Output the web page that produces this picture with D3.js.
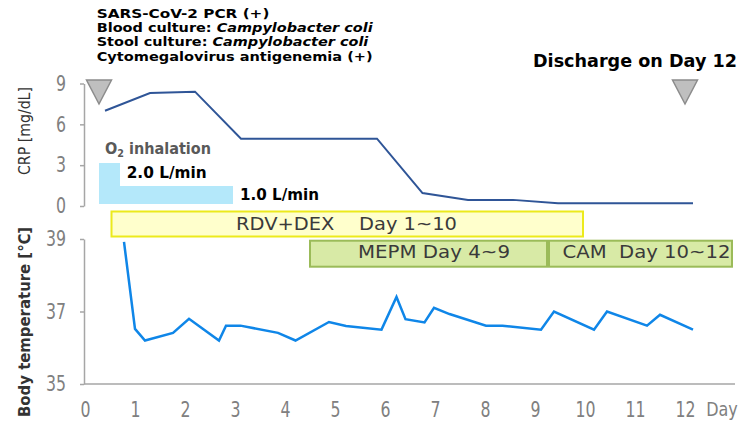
<!DOCTYPE html>
<html><head><meta charset="utf-8">
<script src="https://cdn.jsdelivr.net/npm/d3@7"></script>
<style>
html,body{margin:0;padding:0;background:#fff;}
svg{display:block;}
text{font-family:"DejaVu Sans",Verdana,sans-serif;}
</style></head>
<body>
<svg id="c" width="750" height="422"></svg>
<script>
// ---- data ----
const dayTicks = [0,1,2,3,4,5,6,7,8,9,10,11,12];
const crpTicks = [0,3,6,9];
const tempTicks = [35,37,39];

const crpDays = [0.4, 1.3, 2.2, 3.12, 5.84, 6.75, 7.66, 8.56, 9.46, 12.16];
const crpValues = [7.0, 8.3, 8.4, 4.95, 4.95, 0.95, 0.45, 0.45, 0.2, 0.2];

const tempDays = [0.78, 1.0, 1.2, 1.76, 2.08, 2.68, 2.82, 3.11, 3.86, 4.21, 4.88, 5.22, 5.93, 6.23, 6.41, 6.79, 6.98, 7.29, 8.02, 8.35, 9.12, 9.38, 10.18, 10.44, 11.24, 11.5, 12.16];
const tempValues = [38.92, 36.52, 36.2, 36.41, 36.8, 36.2, 36.61, 36.61, 36.41, 36.2, 36.71, 36.6, 36.5, 37.4, 36.79, 36.7, 37.1, 36.93, 36.61, 36.61, 36.5, 37.0, 36.5, 37.0, 36.61, 36.91, 36.5];

const o2Labels = ["1.0 L/min", "2.0 L/min"];
const o2Flow = [1.0, 2.0];
const o2Start = [0.28, 0.28];
const o2End = [2.96, 0.7];

const drugNames = ["RDV+DEX    Day 1~10", "MEPM Day 4~9", "CAM  Day 10~12"];
const drugStart = [0.53, 4.5, 9.28];
const drugEnd = [9.96, 9.24, 12.94];
const drugRow = [0, 1, 1];

const markerDays = [0.28, 12.0];
const findings = ["SARS-CoV-2 PCR (+)", "Blood culture: |Campylobacter coli", "Stool culture: |Campylobacter coli", "Cytomegalovirus antigenemia (+)"];
const dischargeLabel = "Discharge on Day 12";

// ---- drawing ----
const svg = d3.select("#c");
const x = d3.scaleLinear().domain([0,13]).range([85,735]);
const yCrp = d3.scaleLinear().domain([0,9]).range([206,83.5]);
const yTemp = d3.scaleLinear().domain([35,39]).range([384,239]);
const yO2 = d3.scaleLinear().domain([0,2]).range([209,163]);
const axisColor = "#a6a6a6", tickColor = "#808080";

function fit(sel, w){ sel.each(function(){ const n=this; n.setAttribute("textLength", w); n.setAttribute("lengthAdjust","spacingAndGlyphs"); }); }
function condense(sel, f){ sel.each(function(){ const L=this.getComputedTextLength(); this.setAttribute("textLength", L*f); this.setAttribute("lengthAdjust","spacingAndGlyphs"); }); }

// O2 bars
const o2g = svg.append("g");
o2Flow.forEach((f,i)=>{
  o2g.append("rect").attr("x", x(o2Start[i])).attr("width", x(o2End[i])-x(o2Start[i]))
    .attr("y", yO2(f)).attr("height", 204 - yO2(f)).attr("fill", "#b4e8fa");
});
o2g.append("text").attr("x",105).attr("y",154.3).attr("fill","#595959").attr("font-weight","bold").attr("font-size",15)
  .call(t=>{ t.append("tspan").text("O"); t.append("tspan").attr("font-size",10).attr("dy",3).text("2"); t.append("tspan").attr("dy",-3).text(" inhalation"); })
  .call(fit,106);
o2g.append("text").attr("x",126.7).attr("y",178.3).attr("font-weight","bold").attr("font-size",15.5).attr("fill","#000").text(o2Labels[1]).call(fit,80);
o2g.append("text").attr("x",240).attr("y",200).attr("font-weight","bold").attr("font-size",15.5).attr("fill","#000").text(o2Labels[0]).call(fit,79);

// drug boxes
const rowTop = [211.5, 240.7], rowH = [25, 26];
drugNames.forEach((n,i)=>{
  const r = drugRow[i];
  const isY = r===0;
  svg.append("rect").attr("x", x(drugStart[i])).attr("width", x(drugEnd[i])-x(drugStart[i]))
    .attr("y", rowTop[r]).attr("height", rowH[r])
    .attr("fill", isY ? "#ffffcc" : "#d8eaa6").attr("stroke", isY ? "#ecea1c" : "#9bbb59").attr("stroke-width", 2);
});
const drugTextX = [346.5, 434, 646.5], drugTextW = [221, 152, 168];
drugNames.forEach((n,i)=>{
  svg.append("text").attr("x", drugTextX[i]).attr("y", drugRow[i]===0 ? 229.8 : 258).attr("text-anchor","middle")
    .attr("font-size",18).attr("fill","#3a3a3a").style("white-space","pre").text(n).call(fit, drugTextW[i]);
});

// axes
const gx = svg.append("g").attr("transform","translate(0,384)")
  .call(d3.axisBottom(x).tickValues(dayTicks).tickSize(0).tickSizeOuter(0).tickPadding(18));
gx.select(".domain").attr("stroke",axisColor).attr("stroke-width",1.5).attr("d","M84,0H735");
gx.selectAll("text").attr("font-family","'Liberation Sans',Arial,sans-serif").attr("font-size",21).attr("fill",tickColor).call(condense,0.75);

const fmt = d3.format("d");
const gc = svg.append("g").attr("transform","translate(84,0)")
  .call(d3.axisLeft(yCrp).tickValues(crpTicks).tickFormat(fmt).tickSize(4).tickSizeOuter(0).tickPadding(14));
const gt = svg.append("g").attr("transform","translate(84,0)")
  .call(d3.axisLeft(yTemp).tickValues(tempTicks).tickFormat(fmt).tickSize(4).tickSizeOuter(0).tickPadding(14));
[gc,gt].forEach(g=>{
  g.select(".domain").attr("stroke",axisColor).attr("stroke-width",1.5);
  g.selectAll(".tick line").attr("stroke",axisColor).attr("stroke-width",1.5);
  g.selectAll("text").attr("font-family","'Liberation Sans',Arial,sans-serif").attr("font-size",21).attr("fill",tickColor).call(condense,0.75);
});
svg.append("text").attr("x",722).attr("y",416).attr("text-anchor","middle").attr("font-family","'Liberation Sans',Arial,sans-serif")
  .attr("font-size",20).attr("fill",tickColor).text("Day").call(condense,0.8);

// axis titles
svg.append("text").attr("transform","translate(30,131) rotate(-90)").attr("text-anchor","middle").attr("font-size",16)
  .attr("fill","#333").text("CRP [mg/dL]").call(fit,88);
svg.append("text").attr("transform","translate(30,322) rotate(-90)").attr("text-anchor","middle").attr("font-size",16)
  .attr("font-weight","bold").attr("fill","#333").text("Body temperature [℃]").call(fit,190);

// lines
svg.append("path").datum(crpDays.map((d,i)=>[d,crpValues[i]]))
  .attr("d", d3.line().x(d=>x(d[0])).y(d=>yCrp(d[1])))
  .attr("fill","none").attr("stroke","#2f5597").attr("stroke-width",2);
svg.append("path").datum(tempDays.map((d,i)=>[d,tempValues[i]]))
  .attr("d", d3.line().x(d=>x(d[0])).y(d=>yTemp(d[1])))
  .attr("fill","none").attr("stroke","#0f86e8").attr("stroke-width",2.5).attr("stroke-linejoin","miter");

// markers
markerDays.forEach(d=>{
  const cx = x(d);
  svg.append("path").attr("d", `M${cx-12.5},80 L${cx+12.5},80 L${cx},104 Z`)
    .attr("fill","#bfbfbf").attr("stroke","#8c8c8c").attr("stroke-width",1.5);
});

// findings text
const fW = [172.7, 276, 271.6, 276];
findings.forEach((s,i)=>{
  const parts = s.split("|");
  const t = svg.append("text").attr("x",96.7).attr("y",18.0+i*14.2).attr("font-size",12).attr("font-weight","bold").attr("fill","#000");
  t.append("tspan").text(parts[0]);
  if(parts[1]) t.append("tspan").attr("font-style","italic").text(parts[1]);
  fit(t, fW[i]);
});
svg.append("text").attr("x",533).attr("y",67.3).attr("font-size",17.5).attr("font-weight","bold").attr("fill","#000").text(dischargeLabel).call(fit,204);
</script>
</body></html>
